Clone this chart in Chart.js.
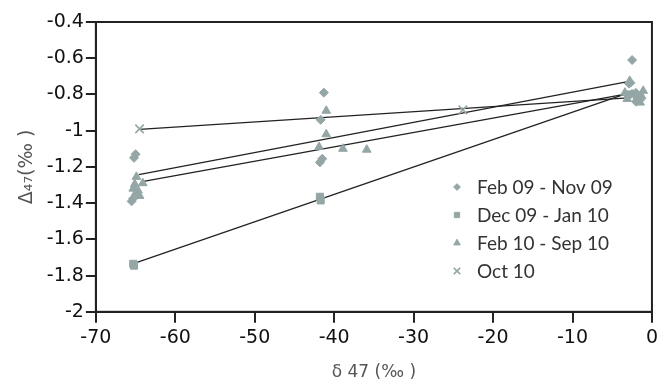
<!DOCTYPE html>
<html>
<head>
<meta charset="utf-8">
<script src="https://cdn.jsdelivr.net/npm/chart.js@4.4.1/dist/chart.umd.min.js"></script>
<style>
    html, body { margin: 0; padding: 0; background: #fff; }
    #wrap { width: 662px; height: 387px; }
</style>
</head>
<body>
<div id="wrap"><canvas id="grafica"></canvas></div>
<script>
// Datos
const feb09Nov09X = [-65.0, -65.2, -65.3, -65.5, -41.3, -41.7, -41.5, -41.8, -2.5, -2.7, -2.9, -2.0, -1.5];
const feb09Nov09Y = [-1.13, -1.15, -1.375, -1.39, -0.79, -0.94, -1.155, -1.175, -0.61, -0.735, -0.74, -0.84, -0.83];

const dec09Jan10X = [-65.3, -65.2, -41.8, -41.7, -2.2, -3.0, -1.9];
const dec09Jan10Y = [-1.735, -1.745, -1.365, -1.385, -0.795, -0.80, -0.815];

const feb10Sep10X = [-64.9, -64.1, -65.1, -65.3, -64.7, -65.0, -64.5, -41.0, -41.0, -41.9, -38.9, -35.9, -2.8, -3.4, -1.1, -1.5, -3.1, -1.3];
const feb10Sep10Y = [-1.255, -1.29, -1.295, -1.32, -1.33, -1.345, -1.36, -0.89, -1.02, -1.09, -1.10, -1.105, -0.725, -0.79, -0.78, -0.845, -0.825, -0.81];

const oct10X = [-64.5, -23.8, -1.6];
const oct10Y = [-0.99, -0.885, -0.79];

// Lineas de tendencia (extremos)
const feb09TrendX = [-64.6, -3.2];
const feb09TrendY = [-1.243, -0.73];
const dec09TrendX = [-65.0, -3.5];
const dec09TrendY = [-1.73, -0.80];
const feb10TrendX = [-64.0, -3.5];
const feb10TrendY = [-1.28, -0.80];
const oct10TrendX = [-64.5, -3.5];
const oct10TrendY = [-0.993, -0.82];

const etiquetas = ["Feb 09 - Nov 09", "Dec 09 - Jan 10", "Feb 10 - Sep 10", "Oct 10"];
const xTicks = [-70, -60, -50, -40, -30, -20, -10, 0];
const yTicks = [-0.4, -0.6, -0.8, -1, -1.2, -1.4, -1.6, -1.8, -2];

const colorPunto = "rgb(148, 166, 165)";
const colorEje = "#222";
const fuenteEje = "'DejaVu Sans', sans-serif";

function puntos(xs, ys) {
    return xs.map((x, i) => ({ x: x, y: ys[i] }));
}

const estilos = [
    { pointStyle: "rectRot", radius: 4.5, borderWidth: 1 },
    { pointStyle: "rect", radius: 5, borderWidth: 1 },
    { pointStyle: "triangle", radius: 5, borderWidth: 1 },
    { pointStyle: "crossRot", radius: 6, borderWidth: 1.6 }
];

const series = [
    puntos(feb09Nov09X, feb09Nov09Y),
    puntos(dec09Jan10X, dec09Jan10Y),
    puntos(feb10Sep10X, feb10Sep10Y),
    puntos(oct10X, oct10Y)
];

const tendencias = [
    puntos(feb09TrendX, feb09TrendY),
    puntos(dec09TrendX, dec09TrendY),
    puntos(feb10TrendX, feb10TrendY),
    puntos(oct10TrendX, oct10TrendY)
];

const datasets = [];
tendencias.forEach(t => {
    datasets.push({
        type: "line",
        data: t,
        borderColor: colorEje,
        borderWidth: 1.3,
        pointRadius: 0,
        fill: false,
        order: 2
    });
});
series.forEach((s, i) => {
    datasets.push({
        type: "scatter",
        label: etiquetas[i],
        data: s,
        pointStyle: estilos[i].pointStyle,
        pointRadius: estilos[i].radius,
        pointBorderWidth: estilos[i].borderWidth,
        backgroundColor: colorPunto,
        borderColor: colorPunto,
        order: 1
    });
});

// Marco alrededor del area de la grafica
const marco = {
    id: "marco",
    afterDraw(chart) {
        const a = chart.chartArea;
        const ctx = chart.ctx;
        ctx.save();
        ctx.strokeStyle = colorEje;
        ctx.lineWidth = 2;
        ctx.strokeRect(a.left, a.top, a.right - a.left, a.bottom - a.top);
        ctx.restore();
    }
};

// Leyenda dentro del area
const leyenda = {
    id: "leyenda",
    afterDraw(chart) {
        const ctx = chart.ctx;
        const x0 = 457, y0 = 187, paso = 28;
        ctx.save();
        etiquetas.forEach((txt, i) => {
            const y = y0 + i * paso;
            ctx.fillStyle = colorPunto;
            ctx.strokeStyle = colorPunto;
            ctx.lineWidth = estilos[i].borderWidth;
            Chart.helpers.drawPoint(ctx, {
                pointStyle: estilos[i].pointStyle,
                radius: estilos[i].radius * 0.75,
                borderWidth: estilos[i].borderWidth,
                rotation: 0
            }, x0, y);
            ctx.fillStyle = "#333";
            ctx.font = "19px Lato, 'Open Sans', sans-serif";
            ctx.textBaseline = "middle";
            ctx.fillText(txt, x0 + 20, y + 1);
        });
        ctx.restore();
    }
};

new Chart(document.getElementById("grafica"), {
    type: "scatter",
    data: { datasets: datasets },
    options: {
        responsive: true,
        maintainAspectRatio: false,
        animation: false,
        layout: { padding: { top: 22, right: 6, left: 12, bottom: 0 } },
        plugins: {
            legend: { display: false },
            tooltip: { enabled: false }
        },
        scales: {
            x: {
                type: "linear",
                min: -70,
                max: 0,
                afterBuildTicks: axis => { axis.ticks = xTicks.map(v => ({ value: v })); },
                border: { display: true, color: colorEje, width: 2 },
                grid: { drawOnChartArea: false, drawTicks: true, tickLength: 11, color: colorEje, lineWidth: 2 },
                ticks: { color: "#111", font: { family: fuenteEje, size: 19 }, padding: 4, callback: v => String(v) },
                title: { display: true, text: "δ 47 (‰ )", color: "#555", font: { family: fuenteEje, size: 17 }, padding: { top: 9 } }
            },
            y: {
                type: "linear",
                min: -2,
                max: -0.4,
                afterBuildTicks: axis => { axis.ticks = yTicks.map(v => ({ value: v })); },
                border: { display: true, color: colorEje, width: 2 },
                grid: { drawOnChartArea: false, drawTicks: true, tickLength: 10, color: colorEje, lineWidth: 2 },
                ticks: { color: "#111", font: { family: fuenteEje, size: 19 }, padding: 2, callback: v => String(v) },
                title: { display: true, text: "Δ₄₇(‰ )", color: "#555", font: { family: fuenteEje, size: 19 }, padding: { bottom: 6 } }
            }
        }
    },
    plugins: [marco, leyenda]
});
</script>
</body>
</html>
